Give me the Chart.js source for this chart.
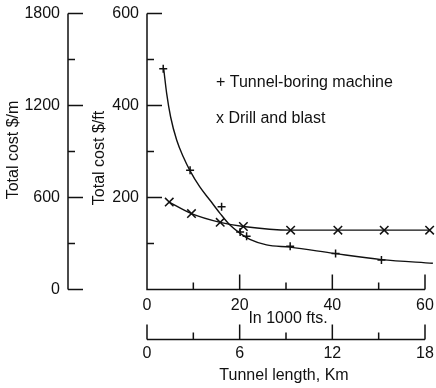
<!DOCTYPE html>
<html>
<head>
<meta charset="utf-8">
<script src="https://cdn.jsdelivr.net/npm/chart.js@4"></script>
<style>
  body { margin: 0; background: #fff; }
  canvas { display: block; }
</style>
</head>
<body>
<canvas id="costChart" width="436" height="388"></canvas>
<script>
// Tunnel-boring machine markers, cost $/ft vs length (1000 ft)
const tbmLength = [3.5, 9.3, 16.1, 20.1, 21.5, 30.9, 40.7, 50.6, 61.7];
const tbmCost = [480, 259, 180, 125, 116, 94, 78, 64, 58];
// the fitted curve drawn for it
const tbmFitLength = [3.6, 4.25, 5.1, 6.4, 7.85, 9.3, 11.4, 13.6, 15.8, 17.9, 20.1, 22.2, 25.8, 30.9, 40.6, 50.6, 61.7];
const tbmFitCost = [480, 426, 375, 325, 288, 258, 223, 194, 165, 140, 122, 109, 97, 92, 78, 65, 57];
// Drill and blast markers (the curve runs through them)
const dbLength = [4.8, 9.6, 15.8, 20.8, 31.0, 41.2, 51.2, 61.0];
const dbCost = [190, 165, 146, 137, 129, 129, 129, 129];

// axis ticks
const kftTicks = [0, 20, 40, 60];
const kftMinor = [10, 30, 50];
const kmTicks = [0, 6, 12, 18];
const kmMinor = [3, 9, 15];
const ftTicks = [200, 400, 600];
const ftMinor = [100, 300, 500];
const mTicks = [0, 600, 1200, 1800];
const mMinor = [300, 900, 1500];

const FONT = '16px "Liberation Sans", Arial, sans-serif';
const INK = '#111';

function toPoints(xs, ys) {
    return xs.map((x, i) => ({ x: x, y: ys[i] }));
}

// draws the inward-tick axes, labels and the text legend
const axesPlugin = {
    id: 'paperAxes',
    afterDraw(chart) {
        const ctx = chart.ctx;
        const area = chart.chartArea;
        const sx = chart.scales.x, sk = chart.scales.xkm;
        const sy = chart.scales.y, sm = chart.scales.ym;
        const major = 15, minor = 7;
        const kmLine = area.bottom + 50;
        const mLine = area.left - 79;

        ctx.save();
        ctx.strokeStyle = INK;
        ctx.fillStyle = INK;
        ctx.lineWidth = 1.5;
        ctx.font = FONT;

        // axis lines
        ctx.beginPath();
        ctx.moveTo(area.left, area.top);
        ctx.lineTo(area.left, area.bottom);
        ctx.lineTo(area.right, area.bottom);
        ctx.moveTo(mLine, sm.getPixelForValue(1800));
        ctx.lineTo(mLine, sm.getPixelForValue(0));
        ctx.moveTo(sk.getPixelForValue(0), kmLine);
        ctx.lineTo(sk.getPixelForValue(18), kmLine);

        // x ticks (pointing up)
        kftTicks.forEach(v => { const p = sx.getPixelForValue(v); ctx.moveTo(p, area.bottom); ctx.lineTo(p, area.bottom - major); });
        kftMinor.forEach(v => { const p = sx.getPixelForValue(v); ctx.moveTo(p, area.bottom); ctx.lineTo(p, area.bottom - minor); });
        kmTicks.forEach(v => { const p = sk.getPixelForValue(v); ctx.moveTo(p, kmLine); ctx.lineTo(p, kmLine - major); });
        kmMinor.forEach(v => { const p = sk.getPixelForValue(v); ctx.moveTo(p, kmLine); ctx.lineTo(p, kmLine - minor); });

        // y ticks (pointing right)
        ftTicks.forEach(v => { const p = sy.getPixelForValue(v); ctx.moveTo(area.left, p); ctx.lineTo(area.left + major, p); });
        ftMinor.forEach(v => { const p = sy.getPixelForValue(v); ctx.moveTo(area.left, p); ctx.lineTo(area.left + minor, p); });
        mTicks.forEach(v => { const p = sm.getPixelForValue(v); ctx.moveTo(mLine, p); ctx.lineTo(mLine + major, p); });
        mMinor.forEach(v => { const p = sm.getPixelForValue(v); ctx.moveTo(mLine, p); ctx.lineTo(mLine + minor, p); });
        ctx.stroke();

        // tick labels
        ctx.textAlign = 'center';
        ctx.textBaseline = 'top';
        kftTicks.forEach(v => ctx.fillText(String(v), sx.getPixelForValue(v), area.bottom + 8));
        kmTicks.forEach(v => ctx.fillText(String(v), sk.getPixelForValue(v), kmLine + 6));

        ctx.textAlign = 'right';
        ctx.textBaseline = 'middle';
        ftTicks.forEach(v => ctx.fillText(String(v), area.left - 8, sy.getPixelForValue(v)));
        mTicks.forEach(v => ctx.fillText(String(v), mLine - 8, sm.getPixelForValue(v)));

        // axis titles
        ctx.textAlign = 'center';
        ctx.fillText('In 1000 fts.', 288, 319);
        ctx.fillText('Tunnel length, Km', 284, 376);

        ctx.save();
        ctx.translate(14, 150);
        ctx.rotate(-Math.PI / 2);
        ctx.fillText('Total cost $/m', 0, 0);
        ctx.restore();
        ctx.save();
        ctx.translate(100, 158);
        ctx.rotate(-Math.PI / 2);
        ctx.fillText('Total cost $/ft', 0, 0);
        ctx.restore();

        // legend
        ctx.textAlign = 'left';
        ctx.textBaseline = 'alphabetic';
        ctx.fillText('+ Tunnel-boring machine', 216, 87);
        ctx.fillText('x Drill and blast', 216, 123);
        ctx.restore();
    }
};

const ctx = document.getElementById('costChart').getContext('2d');
new Chart(ctx, {
    type: 'line',
    data: {
        datasets: [
            {
                label: 'Tunnel-boring machine fit',
                data: toPoints(tbmFitLength, tbmFitCost),
                borderColor: INK,
                borderWidth: 1.4,
                pointRadius: 0,
                cubicInterpolationMode: 'monotone',
                fill: false,
                clip: false
            },
            {
                label: 'Tunnel-boring machine',
                data: toPoints(tbmLength, tbmCost),
                showLine: false,
                pointStyle: 'cross',
                pointRadius: 4,
                pointBorderColor: INK,
                pointBorderWidth: 1.5,
                clip: false
            },
            {
                label: 'Drill and blast',
                data: toPoints(dbLength, dbCost),
                borderColor: INK,
                borderWidth: 1.4,
                pointStyle: 'crossRot',
                pointRadius: 6,
                pointBorderColor: INK,
                pointBorderWidth: 1.5,
                cubicInterpolationMode: 'monotone',
                fill: false,
                clip: false
            }
        ]
    },
    options: {
        responsive: false,
        animation: false,
        layout: {
            padding: { left: 147, right: 11, top: 13.5, bottom: 98.5 }
        },
        plugins: {
            legend: { display: false },
            tooltip: { enabled: false }
        },
        scales: {
            x: { type: 'linear', min: 0, max: 60, display: false },
            xkm: { type: 'linear', axis: 'x', position: 'bottom', min: 0, max: 18, display: false },
            y: { type: 'linear', min: 0, max: 600, display: false },
            ym: { type: 'linear', axis: 'y', position: 'left', min: 0, max: 1800, display: false }
        }
    },
    plugins: [axesPlugin]
});
</script>
</body>
</html>
